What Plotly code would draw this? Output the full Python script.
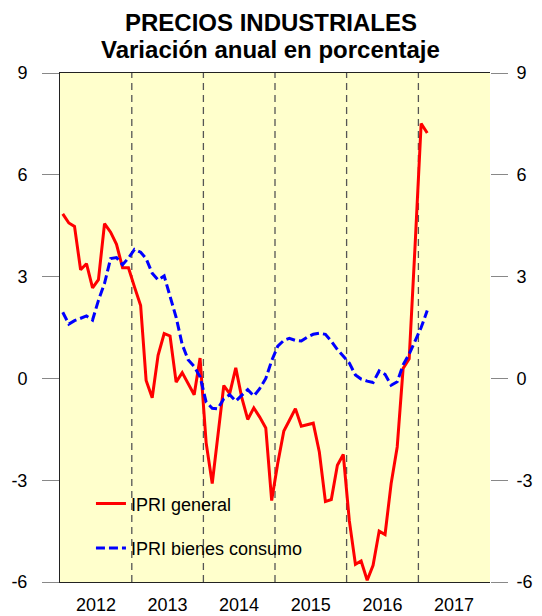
import plotly.graph_objects as go
import pandas as pd

# Monthly observations: Jan 2012 - Feb 2017 (plotted mid-month)
months = [d.strftime("%Y-%m-%d") for d in pd.date_range("2012-01-01", periods=62, freq="MS")]
dates = [m[:8] + "15" for m in months]

ipri_general = [
    4.85, 4.58, 4.48, 3.20, 3.38, 2.67, 2.91, 4.56, 4.31, 3.95, 3.26, 3.26,   # 2012
    2.69, 2.15, -0.06, -0.57, 0.68, 1.32, 1.25, -0.11, 0.17, -0.16, -0.48, 0.60,  # 2013
    -1.90, -3.10, -1.65, -0.21, -0.45, 0.31, -0.55, -1.21, -0.87, -1.14, -1.46, -3.60,  # 2014
    -2.50, -1.55, -1.24, -0.89, -1.41, -1.36, -1.32, -2.17, -3.63, -3.57, -2.56, -2.24,  # 2015
    -4.20, -5.48, -5.38, -5.95, -5.51, -4.50, -4.60, -3.10, -2.02, 0.29, 0.58, 3.90,  # 2016
    7.51, 7.23,  # 2017
]

ipri_consumo = [
    1.95, 1.60, 1.70, 1.78, 1.84, 1.72, 2.30, 2.80, 3.53, 3.56, 3.35, 3.55,   # 2012
    3.80, 3.72, 3.53, 3.10, 2.90, 3.02, 2.40, 1.80, 1.00, 0.55, 0.35, 0.05,   # 2013
    -0.70, -0.88, -0.90, -0.60, -0.48, -0.67, -0.50, -0.33, -0.52, -0.30, 0.00, 0.52,  # 2014
    0.95, 1.12, 1.18, 1.12, 1.10, 1.22, 1.30, 1.33, 1.30, 1.10, 0.85, 0.65,   # 2015
    0.45, 0.10, -0.02, -0.08, -0.12, 0.22, 0.12, -0.20, -0.10, 0.40, 0.72, 1.10,  # 2016
    1.50, 2.00,  # 2017
]

years = [2012, 2013, 2014, 2015, 2016, 2017]
y_ticks = [-6, -3, 0, 3, 6, 9]
title_lines = ["PRECIOS INDUSTRIALES", "Variación anual en porcentaje"]

FONT = "Arial, Liberation Sans, sans-serif"

fig = go.Figure()
fig.add_trace(go.Scatter(
    x=dates, y=ipri_general, mode="lines", name="IPRI general",
    line=dict(color="#FF0000", width=3), legendgroup="a",
))
fig.add_trace(go.Scatter(
    x=dates, y=ipri_consumo, mode="lines", name="IPRI bienes consumo",
    line=dict(color="#0000FF", width=3, dash="9px,4px"), legendgroup="b",
))
# invisible trace to activate right-hand axis
fig.add_trace(go.Scatter(
    x=dates, y=ipri_consumo, mode="lines", yaxis="y2", showlegend=False,
    line=dict(width=0, color="rgba(0,0,0,0)"), hoverinfo="skip",
))

shapes = []
for yr in years[1:]:
    shapes.append(dict(
        type="line", xref="x", yref="paper",
        x0=f"{yr}-01-01", x1=f"{yr}-01-01", y0=0, y1=1,
        line=dict(color="#555555", width=1.3, dash="7px,5px"), layer="below",
    ))

annotations = []
for i, line in enumerate(title_lines):
    annotations.append(dict(
        text=f"<b>{line}</b>", xref="paper", yref="paper",
        x=0.49, y=1.100 - i * 0.054, xanchor="center", yanchor="middle",
        showarrow=False, font=dict(family=FONT, size=24, color="#000000"),
    ))

yax = dict(
    range=[-6, 9], tickvals=y_ticks, ticktext=[str(v) for v in y_ticks],
    ticks="outside", ticklen=17, tickcolor="#888888", tickwidth=1,
    showgrid=False, zeroline=False, fixedrange=True, automargin=False,
    tickfont=dict(family=FONT, size=18, color="#000000"),
)

fig.update_layout(
    width=534, height=608,
    margin=dict(l=52, r=52, t=65, b=34, autoexpand=False),
    paper_bgcolor="#FFFFFF", plot_bgcolor="#FFFFCC",
    xaxis=dict(
        type="date", range=["2012-01-01", "2018-01-01"],
        tickvals=[f"{yr}-07-02" for yr in years], ticktext=[str(yr) for yr in years],
        ticks="", showgrid=False, zeroline=False, automargin=False,
        showline=True, mirror=True, linecolor="#222222", linewidth=1,
        tickfont=dict(family=FONT, size=18, color="#000000"),
        ticklabelstandoff=6,
    ),
    yaxis=dict(**yax, side="left", showline=True, linecolor="#222222", linewidth=1,
               ticklabelstandoff=11),
    yaxis2=dict(**yax, side="right", overlaying="y", showline=False, ticklabelstandoff=5),
    shapes=shapes,
    annotations=annotations,
    showlegend=True,
    legend=dict(
        x=0.072, y=0.19, xanchor="left", yanchor="top",
        bgcolor="rgba(0,0,0,0)", borderwidth=0,
        font=dict(family=FONT, size=18, color="#000000"),
        tracegroupgap=18, traceorder="grouped",
    ),
)

fig.write_html("out.html")
